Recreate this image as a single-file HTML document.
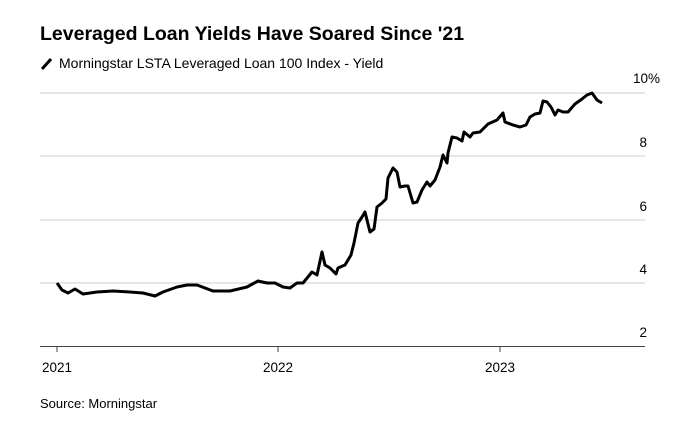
<!DOCTYPE html>
<html><head><meta charset="utf-8"><style>
body{margin:0;background:#fff;width:681px;height:425px;overflow:hidden;font-family:"Liberation Sans",sans-serif;}
</style></head><body>
<svg width="681" height="425" xmlns="http://www.w3.org/2000/svg" font-family="Liberation Sans, sans-serif">
<text x="40" y="40" font-size="19.5" font-weight="bold" fill="#000">Leveraged Loan Yields Have Soared Since '21</text>
<line x1="42" y1="69" x2="51" y2="59" stroke="#000" stroke-width="3"/>
<text x="59" y="68" font-size="14" fill="#000">Morningstar LSTA Leveraged Loan 100 Index - Yield</text>
<g stroke="#ddd" stroke-width="1.5">
<line x1="40" y1="93" x2="645" y2="93"/>
<line x1="40" y1="156" x2="645" y2="156"/>
<line x1="40" y1="220" x2="645" y2="220"/>
<line x1="40" y1="283" x2="645" y2="283"/>
</g>
<line x1="40" y1="346.5" x2="645" y2="346.5" stroke="#444" stroke-width="1"/>
<g stroke="#444"><line x1="57" y1="346" x2="57" y2="352"/><line x1="278" y1="346" x2="278" y2="352"/><line x1="500" y1="346" x2="500" y2="352"/></g>
<g font-size="13.5" fill="#000" text-anchor="end">
<text x="660" y="83">10%</text>
<text x="647" y="147">8</text>
<text x="647" y="211">6</text>
<text x="647" y="274">4</text>
<text x="647" y="337">2</text>
</g>
<g font-size="13.5" fill="#000" text-anchor="middle">
<text x="57" y="372">2021</text><text x="278" y="372">2022</text><text x="500" y="372">2023</text>
</g>
<polyline fill="none" stroke="#000" stroke-width="3" stroke-linejoin="round" points="57,283 62,290 68,293 75,289 83,294 97,292 113,291 130,292 143,293 155,296 163,292 177,287 187,285 197,285 213,291 230,291 247,287 258,281 267,283 275,283 283,287 290,288 297,283 303,283 312,272 317,275 322,252 325,265 330,268 336,274 338,268 345,265 351,255 354,243 358,223 362,217 365,212 370,232 374,229 377,207 382,203 386,199 388,178 393,168 397,172 400,187 405,186 408,186 413,203 417,202 422,190 427,182 430,186 435,180 440,167 443,155 447,163 448,153 452,137 457,138 462,141 464,132 470,137 473,133 480,132 484,128 488,124 497,120 503,113 505,122 513,125 520,127 526,125 530,117 535,114 540,113 543,101 547,102 551,107 555,115 558,110 563,112 568,112 575,104 582,99 587,95 592,93 597,100 602,103"/>
<text x="40" y="408" font-size="13" fill="#000">Source: Morningstar</text>
</svg>
</body></html>
